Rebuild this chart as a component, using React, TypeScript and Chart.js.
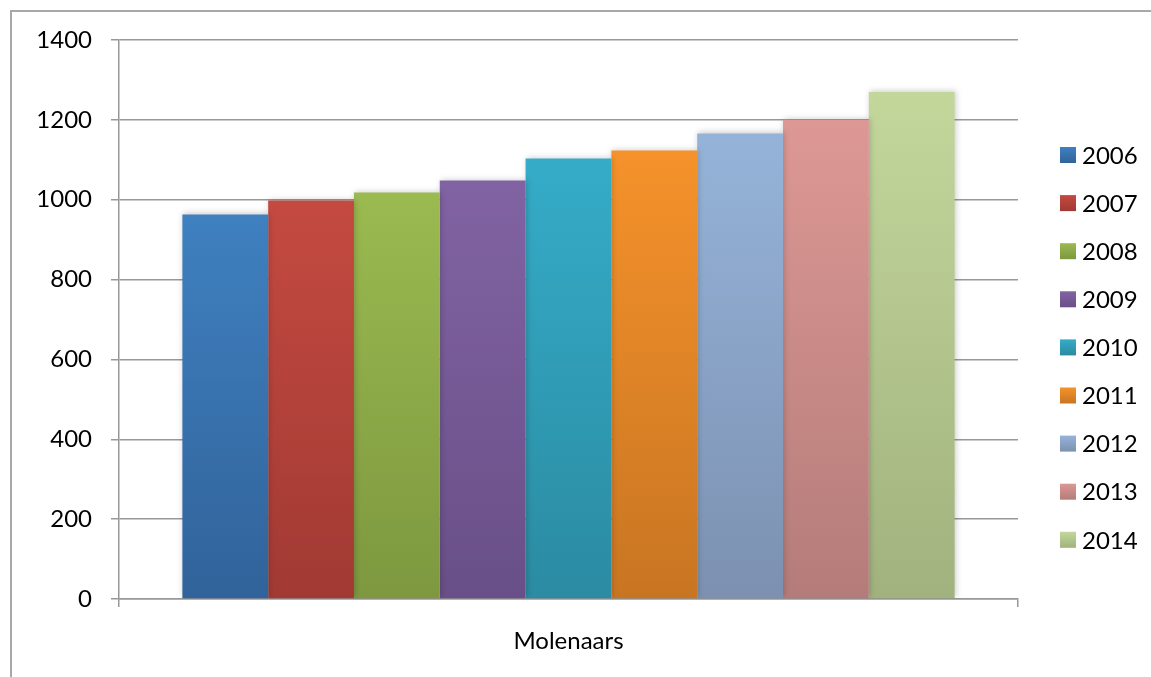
import React, { useEffect, useRef } from "react";
import { Chart, registerables } from "chart.js";

Chart.register(...registerables);

const categories = ["Molenaars"];
const seriesLabels = ["2006", "2007", "2008", "2009", "2010", "2011", "2012", "2013", "2014"];
const seriesValues = [963, 998, 1018, 1048, 1103, 1123, 1166, 1200, 1270];
const topColors = ["#3F80C0", "#C44A41", "#9BBA50", "#8163A3", "#35ACC8", "#F5922B", "#95B3D9", "#DD9895", "#C3D79B"];
const bottomColors = ["#31639A", "#A13A33", "#7D983F", "#694F87", "#2B8BA2", "#C87522", "#7C91B1", "#B47C79", "#A1B27E"];
const yTicks = { min: 0, max: 1400, step: 200 };

const FONT = "Lato, 'Open Sans', sans-serif";
const GRID = "#989898";
const FONT_SIZE = 24;

export default function App() {
  const ref = useRef<HTMLCanvasElement | null>(null);

  useEffect(() => {
    if (!ref.current) return;

    const shadowPlugin = {
      id: "barShadow",
      beforeDatasetsDraw(chart: any) {
        const ctx = chart.ctx;
        ctx.save();
        ctx.shadowColor = "rgba(0,0,0,0.2)";
        ctx.shadowBlur = 6;
        ctx.shadowOffsetX = 1;
        ctx.shadowOffsetY = -1;
      },
      afterDatasetsDraw(chart: any) {
        chart.ctx.restore();
      },
    };

    const legendPlugin = {
      id: "sideLegend",
      afterDraw(chart: any) {
        const ctx = chart.ctx;
        ctx.save();
        chart.data.datasets.forEach((ds: any, i: number) => {
          const cy = 155 + i * 48.1;
          const g = ctx.createLinearGradient(0, cy - 8, 0, cy + 8);
          g.addColorStop(0, topColors[i]);
          g.addColorStop(1, bottomColors[i]);
          ctx.fillStyle = g;
          ctx.fillRect(1060, cy - 8, 16, 16);
          ctx.fillStyle = "#000";
          ctx.font = `${FONT_SIZE}px ${FONT}`;
          ctx.textBaseline = "middle";
          ctx.textAlign = "left";
          ctx.fillText(ds.label, 1082, cy + 1);
        });
        ctx.restore();
      },
    };

    const chart = new Chart(ref.current, {
      type: "bar",
      data: {
        labels: categories,
        datasets: seriesLabels.map((label, i) => ({
          label,
          data: [seriesValues[i]],
          borderWidth: 0,
          backgroundColor: (c: any) => {
            const ch = c.chart;
            const ys = ch.scales?.y;
            if (!ys || !ch.chartArea || c.raw == null) return topColors[i];
            const y0 = ys.getPixelForValue(c.raw);
            const y1 = ys.getPixelForValue(0);
            const g = ch.ctx.createLinearGradient(0, y0, 0, y1);
            g.addColorStop(0, topColors[i]);
            g.addColorStop(1, bottomColors[i]);
            return g;
          },
          categoryPercentage: 0.859,
          barPercentage: 1,
        })),
      },
      options: {
        animation: false,
        responsive: false,
        maintainAspectRatio: false,
        layout: { padding: { top: 40, right: 133, left: 0, bottom: 0 } },
        plugins: {
          legend: { display: false },
          tooltip: { enabled: false },
        },
        scales: {
          x: {
            offset: true,
            grid: {
              offset: true,
              drawOnChartArea: false,
              drawTicks: true,
              tickLength: 8,
              color: GRID,
              lineWidth: 1.5,
            },
            border: { display: true, color: GRID, width: 1.5 },
            ticks: {
              color: "#000",
              font: { family: FONT, size: FONT_SIZE },
              padding: 20,
            },
            afterFit: (s: any) => {
              s.height = 78;
            },
          },
          y: {
            min: yTicks.min,
            max: yTicks.max,
            ticks: {
              stepSize: yTicks.step,
              color: "#000",
              font: { family: FONT, size: FONT_SIZE },
              padding: 19,
              callback: (v: any) => String(v),
            },
            grid: {
              color: GRID,
              lineWidth: 1.5,
              tickLength: 8,
              drawTicks: true,
            },
            border: { display: true, color: GRID, width: 1.5 },
            afterFit: (s: any) => {
              s.width = 119;
            },
          },
        },
      },
      plugins: [shadowPlugin, legendPlugin],
    });

    return () => chart.destroy();
  }, []);

  return (
    <div style={{ position: "fixed", left: 0, top: 0, width: 1151, height: 677, background: "#fff", overflow: "hidden" }}>
      <div
        style={{
          position: "absolute",
          left: 10,
          top: 10,
          width: 1200,
          height: 800,
          borderLeft: "2px solid #A8A8A8",
          borderTop: "2px solid #A8A8A8",
          boxSizing: "border-box",
        }}
      />
      <canvas ref={ref} width={1151} height={677} style={{ position: "absolute", left: 0, top: 0, width: 1151, height: 677 }} />
    </div>
  );
}
